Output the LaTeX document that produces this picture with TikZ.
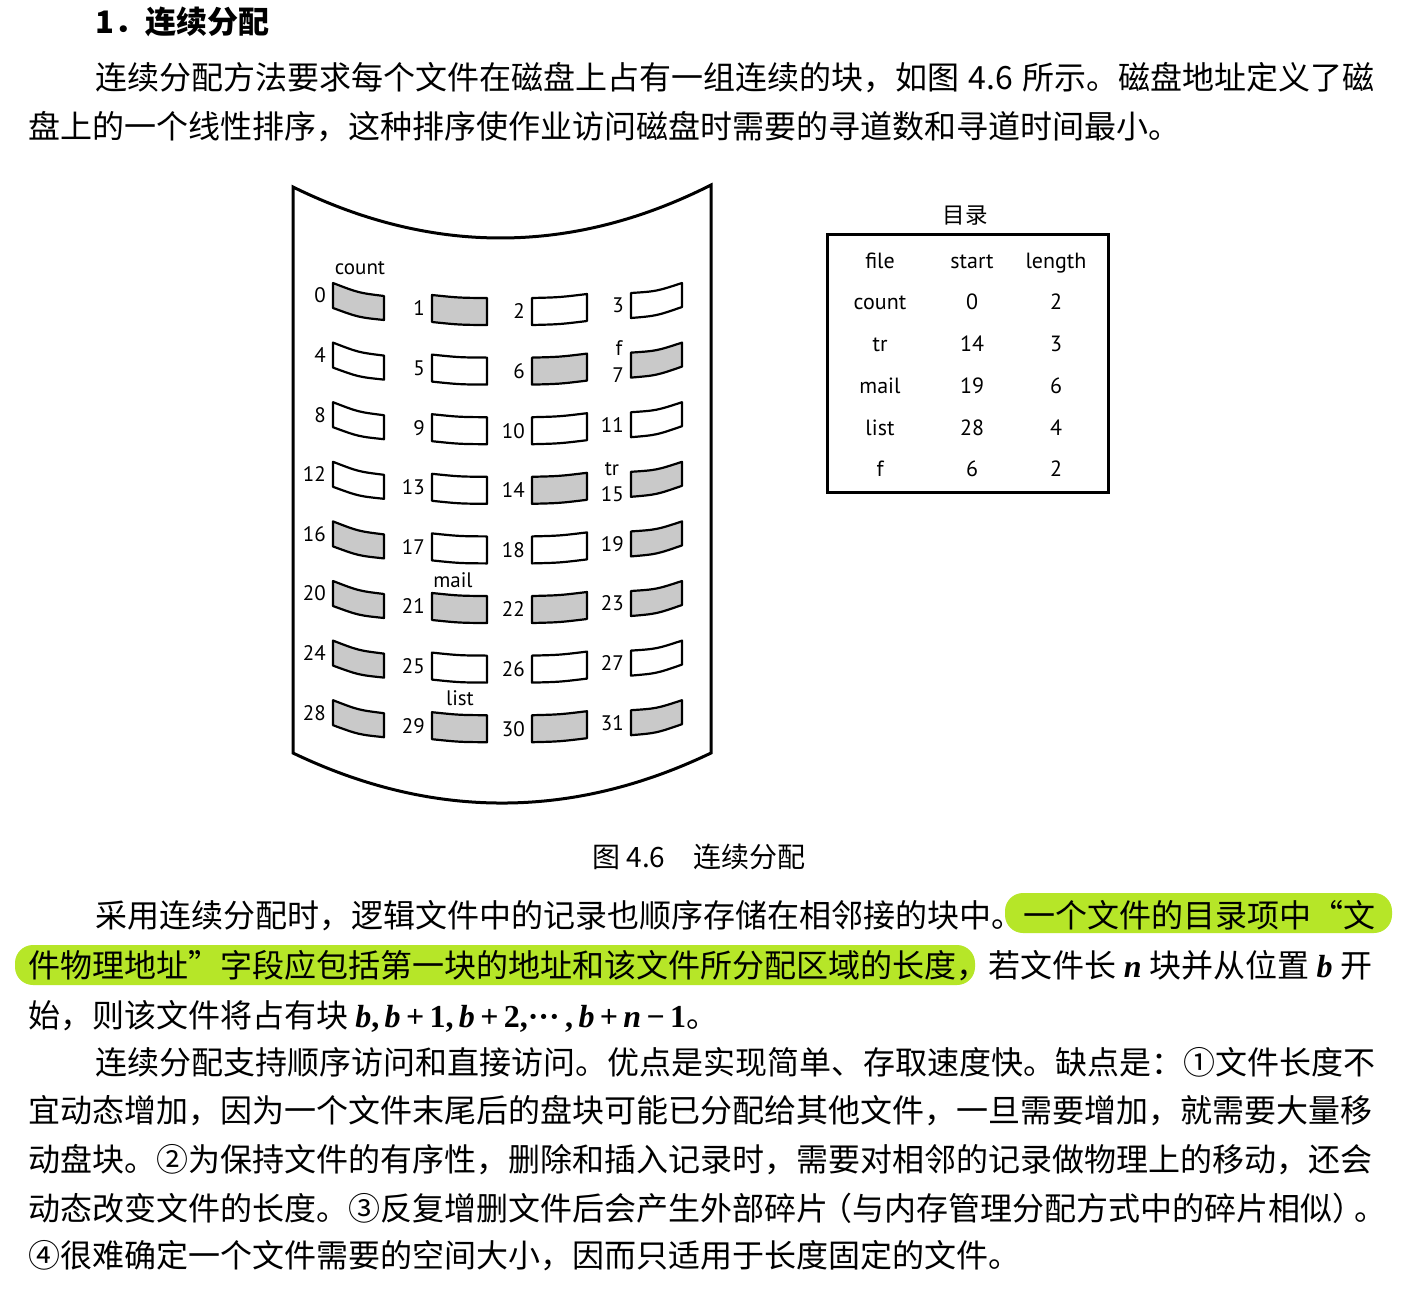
\documentclass[tikz,border=0pt]{standalone}
\usepackage{fontspec}
\setmainfont{Liberation Serif}
\newfontfamily\cjk{Noto Sans CJK SC}
\newfontfamily\lab{PT Sans}
\newfontfamily\serif{Liberation Serif}
\XeTeXlinebreaklocale "zh"
\XeTeXlinebreakskip=0pt plus 3pt minus 2pt
\definecolor{hlgreen}{RGB}{182,230,40}
\newcommand\bodyfont{\cjk\fontsize{32pt}{38pt}\selectfont}
\newcommand\jl[2]{\hbox to #1{#2}}
\newcommand\vb[1]{{\serif\bfseries\itshape #1}}
\newcommand\vr[1]{{\serif\bfseries #1}}
\newcommand\dblock[2]{%
  \pgfmathtruncatemacro\brow{int(#1/4)}%
  \pgfmathtruncatemacro\bcol{mod(#1,4)}%
  \pgfmathsetmacro\yb{283+59.6*\brow}%
  \ifcase\bcol
    \def\bxl{333}\def\bxr{384}\def\bdl{0}\def\bdr{13}\def\bhl{25}\def\bhr{24}\def\bbw{2.5}%
  \or
    \def\bxl{432}\def\bxr{487}\def\bdl{12}\def\bdr{15}\def\bhl{27}\def\bhr{27}\def\bbw{1}%
  \or
    \def\bxl{532}\def\bxr{587}\def\bdl{15}\def\bdr{11}\def\bhl{27}\def\bhr{27}\def\bbw{1}%
  \else
    \def\bxl{631}\def\bxr{682}\def\bdl{10}\def\bdr{0}\def\bhl{25}\def\bhr{24}\def\bbw{2.5}%
  \fi
  \def\lsh{0}\ifnum#1=7 \def\lsh{10}\fi\ifnum#1=15 \def\lsh{10}\fi
  \draw[#2] (\bxl,\yb+\bdl)
     .. controls ({(\bxl+\bxr)/2},{\yb+(\bdl+\bdr)/2+1.33*\bbw}) .. (\bxr,\yb+\bdr)
     -- (\bxr,\yb+\bdr+\bhr)
     .. controls ({(\bxl+\bxr)/2},{\yb+(\bdl+\bdr+\bhl+\bhr)/2+1.33*\bbw}) .. (\bxl,\yb+\bdl+\bhl)
     -- cycle;
  \node[numlbl] (n#1) at (\bxl-7,\yb+\bdl+\bhl/2+\lsh) {#1};
}
\begin{document}
\begin{tikzpicture}[x=1pt,y=-1pt,
  body/.style={inner sep=0pt, anchor=west, font=\bodyfont},
  blkline/.style={line width=2.2pt, line join=round},
  blkfull/.style={blkline, fill=black!21},
  blkempty/.style={blkline, fill=white},
  numlbl/.style={inner sep=0pt, anchor=east, font=\lab\fontsize{21pt}{24pt}\selectfont},
  tag/.style={inner sep=0pt, anchor=base, font=\lab\fontsize{21pt}{24pt}\selectfont},
  tbl/.style={inner sep=0pt, anchor=base, font=\lab\fontsize{22pt}{26pt}\selectfont},
  hlbox/.style={fill=hlgreen, rounded corners=18pt}]
\useasboundingbox (0,0) rectangle (1405,1291);
\fill[white] (0,0) rectangle (1405,1291);

% ---- highlights (behind text)
\fill[hlbox] (1005,893) rectangle (1392,933);
\fill[hlbox] (15,945) rectangle (975,985);

% ---- text above figure
\node[inner sep=0pt, anchor=west, font=\cjk\bfseries\fontsize{31pt}{36pt}\selectfont] (title) at (95,22) {1．连续分配};
\node[body] (p1a) at (95,78) {\jl{1277pt}{连续分配方法要求每个文件在磁盘上占有一组连续的块，如图\hspace{0.3em}4.6\hspace{0.3em}所示。磁盘地址定义了磁}};
\node[body] (p1b) at (28,127) {盘上的一个线性排序，这种排序使作业访问磁盘时需要的寻道数和寻道时间最小。};

% ---- disk outline
\draw[line width=3pt, line join=miter] (293,187) .. controls (432,255.3) and (572,255.3) .. (711,185)
   -- (711,753) .. controls (572,819.7) and (432,819.7) .. (293,753) -- cycle;

% ---- blocks
\foreach \i in {0,1,6,7,14,15,16,19,20,21,22,23,24,28,29,30,31} {\dblock{\i}{blkfull}}
\foreach \i in {2,3,4,5,8,9,10,11,12,13,17,18,25,26,27} {\dblock{\i}{blkempty}}

% ---- file tags
\node[tag] (tcount) at (360,274) {count};
\node[tag] (tf) at (619,355) {f};
\node[tag] (ttr) at (612,475) {tr};
\node[tag] (tmail) at (453,587) {mail};
\node[tag] (tlist) at (460,705) {list};

% ---- directory
\node[inner sep=0pt, font=\cjk\fontsize{22.5pt}{26pt}\selectfont] (dirtitle) at (965,216) {目录};
\node[draw, line width=3pt, minimum width=281pt, minimum height=258pt, inner sep=0pt, anchor=north west] (dir) at (826,233) {};
\node[tbl] (h1) at (880,268) {file};
\node[tbl] (h2) at (972,268) {start};
\node[tbl] (h3) at (1056,268) {length};
\node[tbl] (r11) at (880,309) {count};
\node[tbl] (r12) at (972,309) {0};
\node[tbl] (r13) at (1056,309) {2};
\node[tbl] (r21) at (880,351) {tr};
\node[tbl] (r22) at (972,351) {14};
\node[tbl] (r23) at (1056,351) {3};
\node[tbl] (r31) at (880,393) {mail};
\node[tbl] (r32) at (972,393) {19};
\node[tbl] (r33) at (1056,393) {6};
\node[tbl] (r41) at (880,435) {list};
\node[tbl] (r42) at (972,435) {28};
\node[tbl] (r43) at (1056,435) {4};
\node[tbl] (r51) at (880,476) {f};
\node[tbl] (r52) at (972,476) {6};
\node[tbl] (r53) at (1056,476) {2};

% ---- caption
\node[inner sep=0pt, anchor=west, font=\cjk\fontsize{28pt}{32pt}\selectfont] (cap) at (592,857) {图 4.6　连续分配};

% ---- text below figure
\node[body] (p2a) at (95,916) {\jl{1277pt}{采用连续分配时，逻辑文件中的记录也顺序存储在相邻接的块中。一个文件的目录项中“文}};
\node[body] (p2b) at (28,966) {\jl{1344pt}{件物理地址”字段应包括第一块的地址和该文件所分配区域的长度，若文件长 \vb{n} 块并从位置 \vb{b} 开}};
\node[body] (p2c) at (28,1016) {始，则该文件将占有块 \vb{b}\vr{,\,}\vb{b}\vr{\,+\,1,\,}\vb{b}\vr{\,+\,2,···\,,\,}\vb{b}\vr{\,+\,}\vb{n}\vr{\,−\,1}。};
\node[body] (p3a) at (95,1062) {\jl{1277pt}{连续分配支持顺序访问和直接访问。优点是实现简单、存取速度快。缺点是：①文件长度不}};
\node[body] (p3b) at (28,1111) {\jl{1344pt}{宜动态增加，因为一个文件末尾后的盘块可能已分配给其他文件，一旦需要增加，就需要大量移}};
\node[body] (p3c) at (28,1160) {\jl{1344pt}{动盘块。②为保持文件的有序性，删除和插入记录时，需要对相邻的记录做物理上的移动，还会}};
\node[body] (p3d) at (28,1208) {\XeTeXlinebreakskip=0pt plus 3pt minus 6pt\relax\jl{1344pt}{动态改变文件的长度。③反复增删文件后会产生外部碎片\hspace{-0.25em}（与内存管理分配方式中的碎片相似）\hspace{-0.3em}。}};
\node[body] (p3e) at (28,1256) {④很难确定一个文件需要的空间大小，因而只适用于长度固定的文件。};
\end{tikzpicture}
\end{document}
